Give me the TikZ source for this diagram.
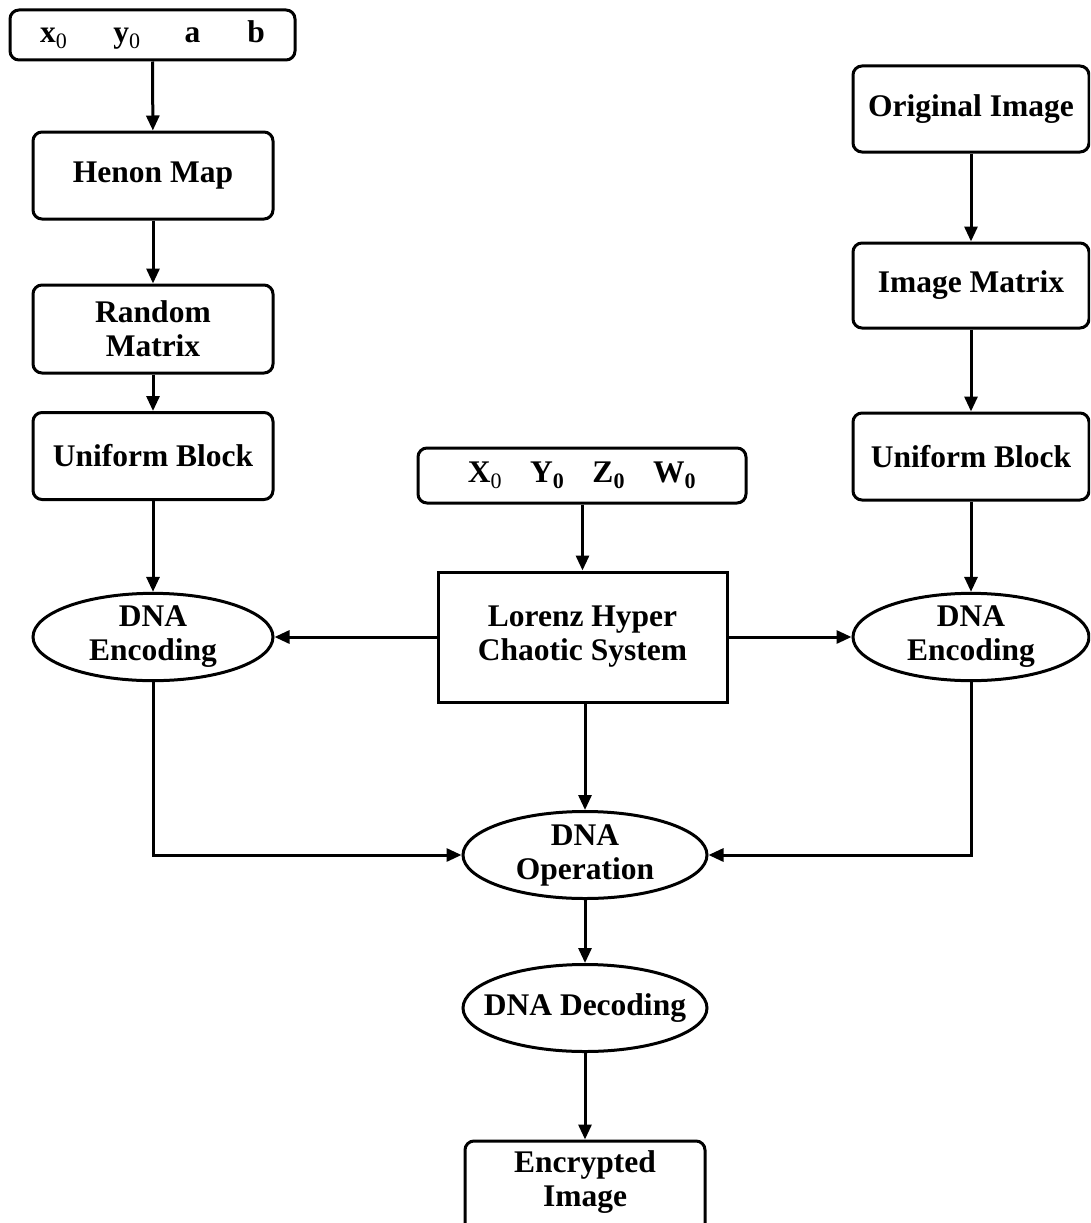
\documentclass[tikz,border=0pt]{standalone}
\usepackage{fontspec}
\setmainfont{Liberation Serif}
\usetikzlibrary{shapes.geometric,arrows.meta}
\begin{document}
\begin{tikzpicture}[x=1pt,y=-1pt,
  every node/.style={font=\bfseries\fontsize{31.5}{34}\selectfont, align=center, line width=3pt, inner sep=0pt},
  rbox/.style={draw, rounded corners=9pt, minimum width=240pt, minimum height=87pt},
  sbox/.style={draw, minimum width=289pt, minimum height=130pt},
  ell/.style={draw, ellipse, minimum width=242pt, minimum height=87pt},
  conn/.style={line width=3pt, -{Triangle[length=15pt,width=13pt]}},
  line/.style={line width=3pt}]
\clip (0,0) rectangle (1090,1223);
% left column
\node[rbox, minimum width=285pt, minimum height=50pt] (keys) at (152.5,35) {x\textsubscript{\normalfont 0}\hspace{46pt}y\textsubscript{\normalfont 0}\hspace{44pt}a\hspace{47pt}b};
\node[rbox] (henon) at (153,175.5) {Henon Map};
\node[rbox, minimum height=88pt] (random) at (153,329) {Random\\Matrix};
\node[rbox] (uniL) at (153,456) {Uniform Block};
\node[ell, minimum width=240pt] (dnaL) at (153,637) {DNA\\Encoding};
% middle
\node[rbox, minimum width=328pt, minimum height=55pt] (xbox) at (582,475.5) {X\textsubscript{\normalfont 0}\hspace{28pt}Y\textsubscript{0}\hspace{28pt}Z\textsubscript{0}\hspace{28pt}W\textsubscript{0}};
\node[sbox] (lorenz) at (582.5,637) {Lorenz Hyper\\Chaotic System};
\node[ell, minimum width=244pt] (dnaOp) at (585,855) {DNA\\Operation};
\node[ell, minimum width=244pt] (dnaDec) at (585,1008) {\makebox[0pt]{DNA Decoding}};
\node[rbox, minimum height=110pt] (enc) at (585,1196) {};
\node (encT) at (585,1182) {Encrypted\\Image};
% right column
\node[rbox, minimum width=236pt, minimum height=86pt] (orig) at (971,109) {Original Image};
\node[rbox, minimum width=236pt, minimum height=85pt] (imgmat) at (971,285.5) {Image Matrix};
\node[rbox, minimum width=236pt, minimum height=87pt] (uniR) at (971,456.5) {Uniform Block};
\node[ell, minimum width=236pt] (dnaR) at (971,637) {DNA\\Encoding};
% connectors
\draw[conn] (keys) -- (henon);
\draw[conn] (henon) -- (random);
\draw[conn] (random) -- (uniL);
\draw[conn] (uniL) -- (dnaL);
\draw[conn] (orig) -- (imgmat);
\draw[conn] (imgmat) -- (uniR);
\draw[conn] (uniR) -- (dnaR);
\draw[conn] (xbox.south -| lorenz.north) -- (lorenz.north);
\draw[conn] (lorenz.west) -- (dnaL.east);
\draw[conn] (lorenz.east) -- (dnaR.west);
\draw[conn] (lorenz.south -| dnaOp.north) -- (dnaOp.north);
\draw[conn] (dnaL.south) |- (dnaOp.west);
\draw[conn] (dnaR.south) |- (dnaOp.east);
\draw[conn] (dnaOp) -- (dnaDec);
\draw[conn] (dnaDec) -- (enc.north);
\end{tikzpicture}
\end{document}
